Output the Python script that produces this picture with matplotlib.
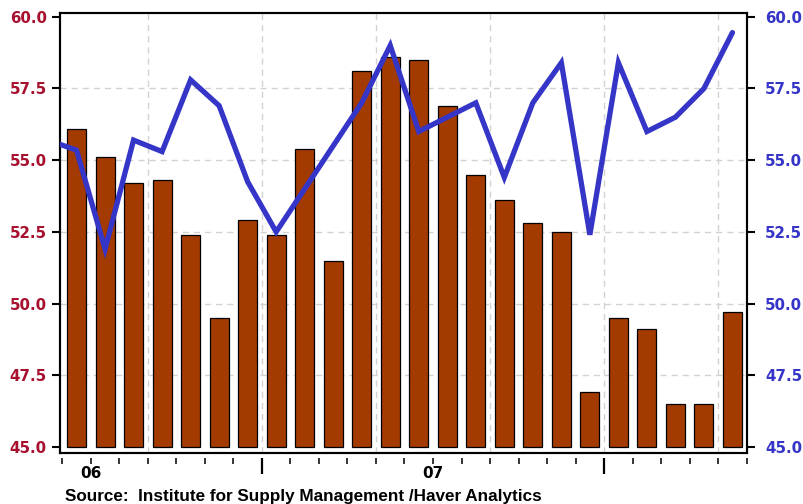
import matplotlib.pyplot as plt
import numpy as np
import pandas as pd

# monthly data, Jun 2006 - May 2008 (bars, left axis)
months = pd.date_range('2006-06-01', periods=24, freq='MS')
bar_vals = [56.1, 55.1, 54.2, 54.3, 52.4, 49.5, 52.9, 52.4, 55.4, 51.5, 58.1, 58.6,
            58.5, 56.9, 54.5, 53.6, 52.8, 52.5, 46.9, 49.5, 49.1, 46.5, 46.5, 49.7]
# line (right axis), starts one month earlier (May 2006), clipped at left edge
line_vals = [55.7, 55.35, 51.9, 55.7, 55.3, 57.8, 56.9, 54.25, 52.5, 54.0, 55.5, 57.0,
             59.0, 56.0, 56.5, 57.0, 54.4, 57.0, 58.4, 52.4, 58.4, 56.0, 56.5, 57.5, 59.45]
yticks = [45.0, 47.5, 50.0, 52.5, 55.0, 57.5, 60.0]
source = 'Source:  Institute for Supply Management /Haver Analytics'

bar_col = '#a33a00'
line_col = '#3535c8'
left_col = '#a8102f'
grid_col = '#d2d2d2'

plt.rcParams['font.family'] = ['DejaVu Sans']
plt.rcParams['font.weight'] = 'bold'

fig = plt.figure(figsize=(8.04, 5.04), dpi=100)
ax = fig.add_axes([60/804, 1 - 453/504, (747 - 60)/804, (453 - 12.5)/504])

x = np.arange(len(bar_vals))
base = 45.0
ax.bar(x, np.array(bar_vals) - base, bottom=base, width=0.67, color=bar_col,
       edgecolor='black', linewidth=0.9, zorder=3)

ax.set_xlim(-0.58, 23.51)
ax.set_ylim(44.79, 60.15)

# grid: inner horizontal lines and 4-month vertical lines
for v in yticks[1:-1]:
    ax.axhline(v, color=grid_col, lw=1, dashes=(4.5, 3.5), zorder=1)
for i in range(len(months)):
    if months[i].month in (1, 5, 9) and i > 0:
        ax.axvline(i - 0.5, color=grid_col, lw=1, dashes=(4.5, 3.5), zorder=1)

# year labels centred on each calendar year
jan_idx = [i for i in range(len(months)) if months[i].month == 1]
year_pos = [j - 12 + 5.5 for j in jan_idx]
year_lab = [str(months[j].year - 1)[2:] for j in jan_idx]
ax.set_xticks(year_pos, year_lab)
ax.tick_params(axis='x', length=0, pad=9.5, labelsize=11)

# month ticks slightly below the frame, longer at year boundaries
sec = ax.secondary_xaxis(-0.011)
sec.spines['bottom'].set_visible(False)
sec.set_xticks([j - 0.5 for j in jan_idx])
sec.set_xticks([i - 0.5 for i in range(len(months) + 1) if i not in jan_idx], minor=True)
sec.tick_params(which='major', length=11.5, width=1.6, labelbottom=False)
sec.tick_params(which='minor', length=4, width=1.1)

ax.set_yticks(yticks, [f'{v:.1f}' for v in yticks])
ax.tick_params(axis='y', length=6, width=1.5, pad=3.5, labelsize=10.8,
               labelcolor=left_col)
for s in ax.spines.values():
    s.set_linewidth(1.5)

ax2 = ax.twinx()
ax2.set_ylim(ax.get_ylim())
ax2.plot(np.arange(-1, len(bar_vals)), line_vals, color=line_col, lw=3.8,
         solid_capstyle='round', solid_joinstyle='miter', zorder=4)
ax2.set_yticks(yticks, [f'{v:.1f}' for v in yticks])
ax2.tick_params(axis='y', length=6, width=1.5, pad=7, labelsize=10.8,
                labelcolor=line_col)
for s in ax2.spines.values():
    s.set_linewidth(1.5)

fig.text(65/804, 2.5/504, source, fontsize=12.3, fontweight='bold',
         family=['Liberation Sans', 'DejaVu Sans'], va='baseline')

fig.savefig('out.png', dpi=100)
